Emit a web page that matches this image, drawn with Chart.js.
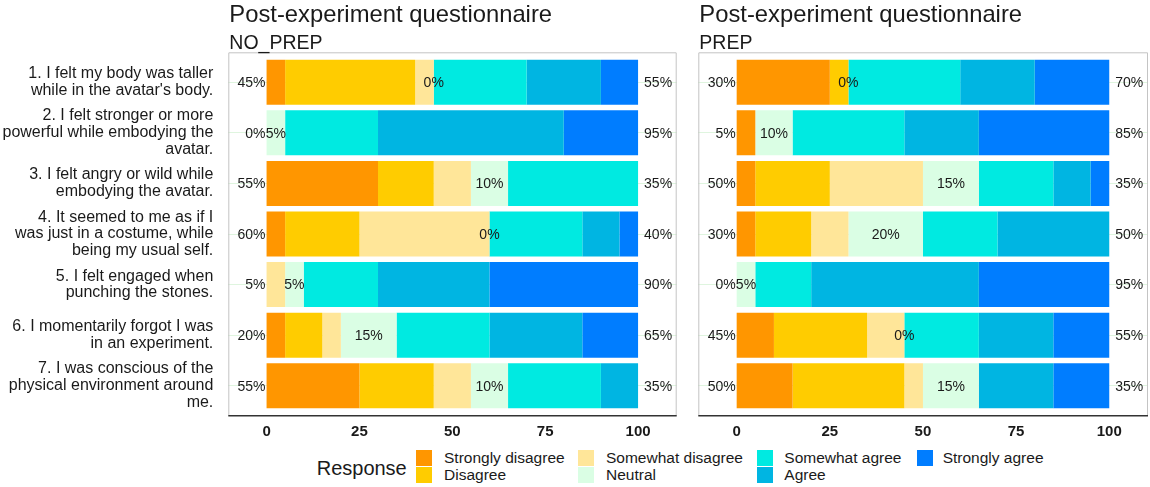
<!DOCTYPE html>
<html>
<head>
<meta charset="utf-8">
<script src="https://cdn.jsdelivr.net/npm/chart.js@4.4.1/dist/chart.umd.min.js"></script>
<style>
  body { margin: 0; background: #fff; width: 1150px; height: 487px; overflow: hidden; position: relative;
         font-family: "Liberation Sans", Arial, sans-serif; color: #1a1a1a; }
  canvas { position: absolute; top: 0; }
  .lg { position: absolute; white-space: nowrap; }
</style>
</head>
<body>
<canvas id="chartNoPrep" width="690" height="447" style="left:0"></canvas>
<canvas id="chartPrep" width="460" height="447" style="left:690px"></canvas>
<div id="legend"></div>
<script>
// questions (y axis), one array of lines per question
const questions = [
    ["1. I felt my body was taller", "while in the avatar's body."],
    ["2. I felt stronger or more", "powerful while embodying the", "avatar."],
    ["3. I felt angry or wild while", "embodying the avatar."],
    ["4. It seemed to me as if I", "was just in a costume, while", "being my usual self."],
    ["5. I felt engaged when", "punching the stones."],
    ["6. I momentarily forgot I was", "in an experiment."],
    ["7. I was conscious of the", "physical environment around", "me."]
];
const responses = ['Strongly disagree', 'Disagree', 'Somewhat disagree', 'Neutral', 'Somewhat agree', 'Agree', 'Strongly agree'];
const responseColors = ['#ff9600', '#ffcc00', '#ffe699', '#dafee4', '#00eae1', '#00b5e2', '#007dff'];

// percent per question, columns in the order of responses
const noPrepPct = [
    [5, 35, 5, 0, 25, 20, 10],
    [0, 0, 0, 5, 25, 50, 20],
    [30, 15, 10, 10, 35, 0, 0],
    [5, 20, 35, 0, 25, 10, 5],
    [0, 0, 5, 5, 20, 30, 40],
    [5, 10, 5, 15, 25, 25, 15],
    [25, 20, 10, 10, 25, 10, 0]
];
const prepPct = [
    [25, 5, 0, 0, 30, 20, 20],
    [5, 0, 0, 10, 30, 20, 35],
    [5, 20, 25, 15, 20, 10, 5],
    [5, 15, 10, 20, 20, 30, 0],
    [0, 0, 0, 5, 15, 45, 35],
    [10, 25, 10, 0, 20, 20, 15],
    [15, 30, 5, 15, 0, 20, 15]
];
const xTicks = [0, 25, 50, 75, 100];
const titleText = 'Post-experiment questionnaire';

const FONT = '"Liberation Sans", Arial, sans-serif';
const TEXT = '#1a1a1a';
Chart.defaults.font.family = FONT;

// panel border, x tick labels, percent labels and titles
function decor(group, rows) {
    return {
        id: 'decor',
        afterDraw(chart) {
            const { ctx, chartArea: a, scales: { x, y } } = chart;
            ctx.save();
            const top = a.top - 4.7, bot = a.bottom + 4.7;
            ctx.strokeStyle = '#c4c4c4';
            ctx.lineWidth = 1;
            ctx.beginPath();
            ctx.moveTo(a.left + 0.5, bot);
            ctx.lineTo(a.left + 0.5, top + 0.5);
            ctx.lineTo(a.right - 0.5, top + 0.5);
            ctx.lineTo(a.right - 0.5, bot);
            ctx.stroke();
            ctx.strokeStyle = '#333';
            ctx.lineWidth = 1.6;
            ctx.beginPath();
            ctx.moveTo(a.left, bot);
            ctx.lineTo(a.right, bot);
            ctx.stroke();

            ctx.fillStyle = TEXT;
            ctx.textBaseline = 'middle';
            ctx.textAlign = 'center';
            ctx.font = 'bold 15px ' + FONT;
            xTicks.forEach(v => ctx.fillText(String(v), x.getPixelForValue(v), 432));

            ctx.font = '14px ' + FONT;
            rows.forEach((r, i) => {
                const neg = r[0] + r[1] + r[2], neu = r[3], pos = r[4] + r[5] + r[6];
                const yc = y.getPixelForValue(i) + 1;
                ctx.textAlign = 'right';
                ctx.fillText(neg + '%', x.getPixelForValue(0) - 1, yc);
                ctx.textAlign = 'left';
                ctx.fillText(pos + '%', x.getPixelForValue(100) + 6, yc);
                ctx.textAlign = 'center';
                ctx.fillText(neu + '%', x.getPixelForValue(neg + neu / 2), yc);
            });

            ctx.textAlign = 'left';
            ctx.textBaseline = 'alphabetic';
            ctx.font = '23.8px ' + FONT;
            ctx.fillText(titleText, a.left + 1, 21.7);
            ctx.font = '19.5px ' + FONT;
            ctx.fillText(group, a.left + 1, 49);
            ctx.restore();
        }
    };
}

function makeChart(id, rows, group, axisWidth, padRight, showLabels) {
    return new Chart(document.getElementById(id), {
        type: 'bar',
        data: {
            labels: questions,
            datasets: responses.map((r, k) => ({
                label: r,
                data: rows.map(row => row[k]),
                backgroundColor: responseColors[k],
                borderWidth: 0,
                barPercentage: 0.89,
                categoryPercentage: 1
            }))
        },
        options: {
            indexAxis: 'y',
            responsive: false,
            animation: false,
            layout: { padding: { top: 57, right: padRight, left: 0, bottom: 0 } },
            plugins: { legend: { display: false }, tooltip: { enabled: false } },
            scales: {
                x: {
                    stacked: true, min: -10.3, max: 110.4,
                    grid: { display: false }, border: { display: false },
                    afterBuildTicks: s => { s.ticks = xTicks.map(v => ({ value: v })); },
                    afterFit: s => { s.height = 36; },
                    ticks: { display: false }
                },
                y: {
                    stacked: true,
                    grid: { color: '#dff5df', offset: false, drawTicks: false },
                    border: { display: false },
                    afterFit: s => { s.width = axisWidth; },
                    ticks: { display: showLabels, autoSkip: false, padding: 15, color: TEXT,
                             font: { size: 16, lineHeight: 1.05 } }
                }
            }
        },
        plugins: [decor(group, rows)]
    });
}

makeChart('chartNoPrep', noPrepPct, 'NO_PREP', 228.3, 13.3, true);
makeChart('chartPrep', prepPct, 'PREP', 8.3, 2, false);

// legend, two rows filled column by column
const legend = document.getElementById('legend');
const colKeyX = [416, 578.3, 757.3, 916.7];
const colTextX = [444, 606, 784.3, 942.7];
const rowKeyY = [450, 467.3];
function addDiv(style, text) {
    const d = document.createElement('div');
    d.className = 'lg';
    Object.assign(d.style, style);
    if (text) d.textContent = text;
    legend.appendChild(d);
}
addDiv({ left: '316.7px', top: (468 - 12) + 'px', fontSize: '20px', lineHeight: '24px' }, 'Response');
responses.forEach((r, k) => {
    const c = Math.floor(k / 2), row = k % 2;
    addDiv({ left: colKeyX[c] + 'px', top: rowKeyY[row] + 'px', width: '16px', height: '16px', background: responseColors[k] });
    addDiv({ left: colTextX[c] + 'px', top: (rowKeyY[row] + 8 - 9) + 'px', fontSize: '15.5px', lineHeight: '18px' }, r);
});
</script>
</body>
</html>
